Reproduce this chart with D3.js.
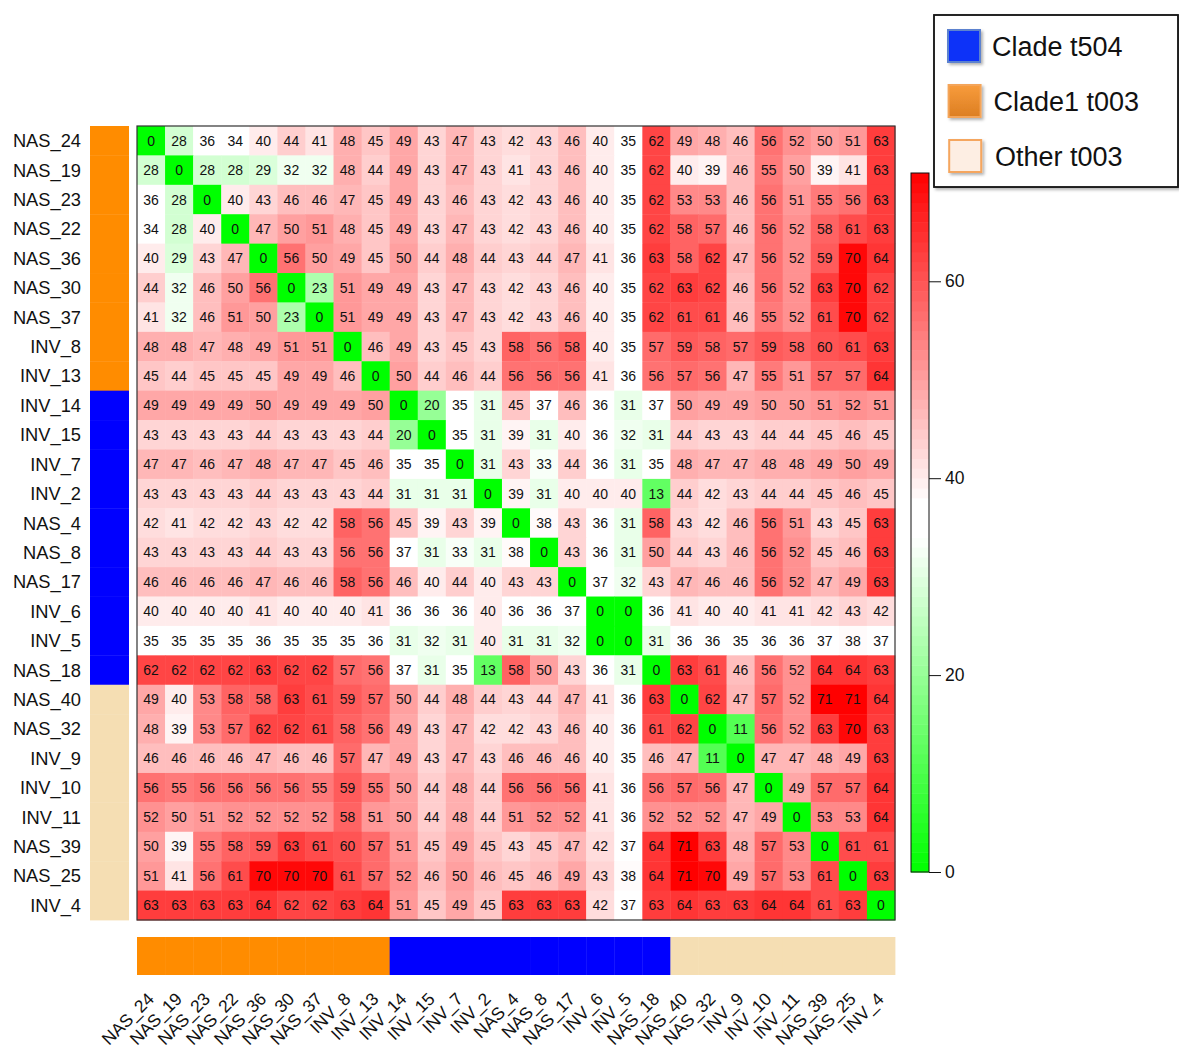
<!DOCTYPE html>
<html>
<head>
<meta charset="utf-8">
<script src="https://cdn.jsdelivr.net/npm/d3@7"></script>
<style>
  html, body { margin: 0; padding: 0; background: #fff; }
  svg { display: block; font-family: "Liberation Sans", Arial, Helvetica, sans-serif; }
</style>
</head>
<body>
<svg id="chart" width="1179" height="1045"></svg>
<script>
// Isolate names, in clustered order (rows and columns share it)
const labels = ["NAS_24","NAS_19","NAS_23","NAS_22","NAS_36","NAS_30","NAS_37","INV_8","INV_13",
  "INV_14","INV_15","INV_7","INV_2","NAS_4","NAS_8","NAS_17","INV_6","INV_5","NAS_18",
  "NAS_40","NAS_32","INV_9","INV_10","INV_11","NAS_39","NAS_25","INV_4"];

// Clade membership of each isolate
const groups = ["c1","c1","c1","c1","c1","c1","c1","c1","c1",
  "t504","t504","t504","t504","t504","t504","t504","t504","t504","t504",
  "oth","oth","oth","oth","oth","oth","oth","oth"];
const groupColors = { c1: "#ff8c00", t504: "#0000ff", oth: "#f5deb3" };

// Pairwise distances, one row per isolate
const distances = [
  [0,28,36,34,40,44,41,48,45,49,43,47,43,42,43,46,40,35,62,49,48,46,56,52,50,51,63],
  [28,0,28,28,29,32,32,48,44,49,43,47,43,41,43,46,40,35,62,40,39,46,55,50,39,41,63],
  [36,28,0,40,43,46,46,47,45,49,43,46,43,42,43,46,40,35,62,53,53,46,56,51,55,56,63],
  [34,28,40,0,47,50,51,48,45,49,43,47,43,42,43,46,40,35,62,58,57,46,56,52,58,61,63],
  [40,29,43,47,0,56,50,49,45,50,44,48,44,43,44,47,41,36,63,58,62,47,56,52,59,70,64],
  [44,32,46,50,56,0,23,51,49,49,43,47,43,42,43,46,40,35,62,63,62,46,56,52,63,70,62],
  [41,32,46,51,50,23,0,51,49,49,43,47,43,42,43,46,40,35,62,61,61,46,55,52,61,70,62],
  [48,48,47,48,49,51,51,0,46,49,43,45,43,58,56,58,40,35,57,59,58,57,59,58,60,61,63],
  [45,44,45,45,45,49,49,46,0,50,44,46,44,56,56,56,41,36,56,57,56,47,55,51,57,57,64],
  [49,49,49,49,50,49,49,49,50,0,20,35,31,45,37,46,36,31,37,50,49,49,50,50,51,52,51],
  [43,43,43,43,44,43,43,43,44,20,0,35,31,39,31,40,36,32,31,44,43,43,44,44,45,46,45],
  [47,47,46,47,48,47,47,45,46,35,35,0,31,43,33,44,36,31,35,48,47,47,48,48,49,50,49],
  [43,43,43,43,44,43,43,43,44,31,31,31,0,39,31,40,40,40,13,44,42,43,44,44,45,46,45],
  [42,41,42,42,43,42,42,58,56,45,39,43,39,0,38,43,36,31,58,43,42,46,56,51,43,45,63],
  [43,43,43,43,44,43,43,56,56,37,31,33,31,38,0,43,36,31,50,44,43,46,56,52,45,46,63],
  [46,46,46,46,47,46,46,58,56,46,40,44,40,43,43,0,37,32,43,47,46,46,56,52,47,49,63],
  [40,40,40,40,41,40,40,40,41,36,36,36,40,36,36,37,0,0,36,41,40,40,41,41,42,43,42],
  [35,35,35,35,36,35,35,35,36,31,32,31,40,31,31,32,0,0,31,36,36,35,36,36,37,38,37],
  [62,62,62,62,63,62,62,57,56,37,31,35,13,58,50,43,36,31,0,63,61,46,56,52,64,64,63],
  [49,40,53,58,58,63,61,59,57,50,44,48,44,43,44,47,41,36,63,0,62,47,57,52,71,71,64],
  [48,39,53,57,62,62,61,58,56,49,43,47,42,42,43,46,40,36,61,62,0,11,56,52,63,70,63],
  [46,46,46,46,47,46,46,57,47,49,43,47,43,46,46,46,40,35,46,47,11,0,47,47,48,49,63],
  [56,55,56,56,56,56,55,59,55,50,44,48,44,56,56,56,41,36,56,57,56,47,0,49,57,57,64],
  [52,50,51,52,52,52,52,58,51,50,44,48,44,51,52,52,41,36,52,52,52,47,49,0,53,53,64],
  [50,39,55,58,59,63,61,60,57,51,45,49,45,43,45,47,42,37,64,71,63,48,57,53,0,61,61],
  [51,41,56,61,70,70,70,61,57,52,46,50,46,45,46,49,43,38,64,71,70,49,57,53,61,0,63],
  [63,63,63,63,64,62,62,63,64,51,45,49,45,63,63,63,42,37,63,64,63,63,64,64,61,63,0]
];

// Colour key ticks and legend entries
const colorbarTicks = [0, 20, 40, 60];
const legendItems = [
  { label: "Clade t504",  fill: "#0a33f8", stroke: "#5b82cf", grad: null },
  { label: "Clade1 t003", fill: "#f08a2a", stroke: "#f4a55a", grad: ["#f89c3c", "#dc7e22"] },
  { label: "Other t003",  fill: "#fdeee3", stroke: "#f5a65e", grad: null }
];

const svg = d3.select("#chart");

// Layout
const heat = { left: 137, right: 895, top: 126, bottom: 920 };
const x = d3.scaleBand().domain(labels).range([heat.left, heat.right]);
const y = d3.scaleBand().domain(labels).range([heat.top, heat.bottom]);

// green -> white -> red colour ramp
const vmax = 71;
const color = d3.scaleLinear()
  .domain([0, 34, 37.5, vmax])
  .range(["#00ff00", "#ffffff", "#ffffff", "#ff0000"])
  .clamp(true);

// Heatmap cells
const cells = [];
distances.forEach((row, i) => row.forEach((v, j) => cells.push({ r: labels[i], c: labels[j], v })));

const gCells = svg.append("g");
gCells.selectAll("rect").data(cells).join("rect")
  .attr("x", d => x(d.c))
  .attr("y", d => y(d.r))
  .attr("width", x.bandwidth() + 0.4)
  .attr("height", y.bandwidth() + 0.4)
  .attr("fill", d => color(d.v));

gCells.selectAll("text").data(cells).join("text")
  .attr("x", d => x(d.c) + x.bandwidth() / 2)
  .attr("y", d => y(d.r) + y.bandwidth() / 2)
  .attr("text-anchor", "middle")
  .attr("dominant-baseline", "central")
  .attr("font-size", 14)
  .attr("fill", "#111")
  .text(d => d.v);

svg.append("rect")
  .attr("x", heat.left).attr("y", heat.top)
  .attr("width", heat.right - heat.left).attr("height", heat.bottom - heat.top)
  .attr("fill", "none").attr("stroke", "#333").attr("stroke-width", 1.2);

// Row side colour bar
svg.append("g").selectAll("rect").data(labels).join("rect")
  .attr("x", 90).attr("width", 39)
  .attr("y", d => y(d)).attr("height", y.bandwidth() + 0.4)
  .attr("fill", (d, i) => groupColors[groups[i]]);

// Column side colour bar
svg.append("g").selectAll("rect").data(labels).join("rect")
  .attr("y", 937).attr("height", 38)
  .attr("x", d => x(d)).attr("width", x.bandwidth() + 0.4)
  .attr("fill", (d, i) => groupColors[groups[i]]);

// Row labels
svg.append("g").selectAll("text").data(labels).join("text")
  .attr("x", 81)
  .attr("y", d => y(d) + y.bandwidth() / 2)
  .attr("text-anchor", "end")
  .attr("dominant-baseline", "central")
  .attr("font-size", 18.3)
  .attr("fill", "#111")
  .text(d => d);

// Column labels, rotated
svg.append("g").selectAll("text").data(labels).join("text")
  .attr("transform", d => `translate(${x(d) + x.bandwidth() / 2 + 4},${1000}) rotate(-45)`)
  .attr("text-anchor", "end")
  .attr("font-size", 17.5)
  .attr("fill", "#111")
  .text(d => d);

// Colour key
const cb = { x: 911, w: 18, top: 173, bottom: 872 };
const cbScale = d3.scaleLinear().domain([0, vmax]).range([cb.bottom, cb.top]);
const steps = d3.range(0, vmax, 1);
svg.append("g").selectAll("rect").data(steps).join("rect")
  .attr("x", cb.x).attr("width", cb.w)
  .attr("y", d => cbScale(d + 1))
  .attr("height", d => cbScale(d) - cbScale(d + 1) + 0.5)
  .attr("fill", d => color(d + 0.5));
svg.append("rect")
  .attr("x", cb.x).attr("y", cb.top).attr("width", cb.w).attr("height", cb.bottom - cb.top)
  .attr("fill", "none").attr("stroke", "#111").attr("stroke-width", 1);

const cbAxis = d3.axisRight(cbScale).tickValues(colorbarTicks).tickSize(12).tickPadding(4);
const gAxis = svg.append("g").attr("transform", `translate(${cb.x + cb.w},0)`).call(cbAxis);
gAxis.select(".domain").remove();
gAxis.selectAll("line").attr("stroke", "#111");
gAxis.selectAll("text").attr("font-size", 17.5).attr("fill", "#111")
  .attr("font-family", "'Liberation Sans', Arial, sans-serif");

// Legend
const defs = svg.append("defs");
const shadow = defs.append("filter").attr("id", "shadow").attr("x", "-10%").attr("y", "-10%")
  .attr("width", "130%").attr("height", "130%");
shadow.append("feDropShadow").attr("dx", 2).attr("dy", 2).attr("stdDeviation", 1.5)
  .attr("flood-color", "#000").attr("flood-opacity", 0.3);

legendItems.forEach((d, i) => {
  if (d.grad) {
    const lg = defs.append("linearGradient").attr("id", "lg" + i)
      .attr("x1", 0).attr("y1", 0).attr("x2", 0).attr("y2", 1);
    lg.append("stop").attr("offset", "0%").attr("stop-color", d.grad[0]);
    lg.append("stop").attr("offset", "100%").attr("stop-color", d.grad[1]);
  }
});

svg.append("rect")
  .attr("x", 934).attr("y", 15).attr("width", 244).attr("height", 172)
  .attr("fill", "#fff").attr("stroke", "#111").attr("stroke-width", 1.8)
  .attr("filter", "url(#shadow)");

const gLeg = svg.append("g").selectAll("g").data(legendItems).join("g")
  .attr("transform", (d, i) => `translate(0,${i * 55})`);
gLeg.append("rect")
  .attr("x", (d, i) => 948 + i * 0.6).attr("y", 30)
  .attr("width", 32).attr("height", 32)
  .attr("fill", (d, i) => d.grad ? `url(#lg${i})` : d.fill)
  .attr("stroke", d => d.stroke).attr("stroke-width", 2)
  .attr("filter", "url(#shadow)");
gLeg.append("text")
  .attr("x", (d, i) => 992 + i * 1.5).attr("y", 56)
  .attr("font-size", 27).attr("fill", "#111")
  .text(d => d.label);
</script>
</body>
</html>
